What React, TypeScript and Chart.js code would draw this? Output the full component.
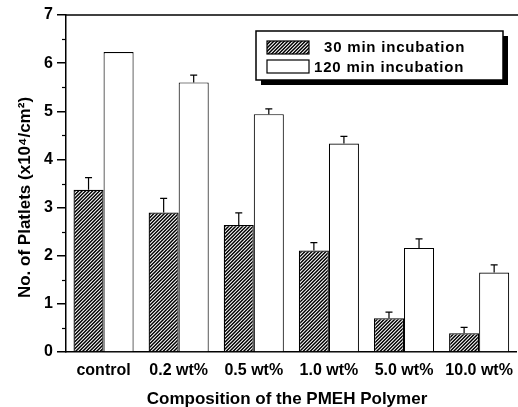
import React, { useEffect, useRef } from "react";
import { Chart, registerables } from "chart.js";

Chart.register(...registerables);

const categories = ["control", "0.2 wt%", "0.5 wt%", "1.0 wt%", "5.0 wt%", "10.0 wt%"];
const min30 = [3.37, 2.9, 2.64, 2.11, 0.7, 0.39];
const err30 = [0.25, 0.29, 0.25, 0.16, 0.13, 0.12];
const min120 = [6.23, 5.6, 4.94, 4.33, 2.16, 1.65];
const err120 = [0, 0.15, 0.11, 0.15, 0.19, 0.16];
const seriesNames = ["30 min incubation", "120 min incubation"];
const yMin = 0;
const yMax = 7;
const yStep = 1;
const yTitle = "No. of Platlets (x10\u2074/cm\u00B2)";
const xTitle = "Composition of the PMEH Polymer";

const FONT = '"Liberation Sans", Arial, sans-serif';
const W = 522;
const H = 407;

function makeHatch(): CanvasPattern | string {
  const pc = document.createElement("canvas");
  const s = 3.5;
  pc.width = 7;
  pc.height = 7;
  const g = pc.getContext("2d");
  if (!g) return "#555";
  g.fillStyle = "#fff";
  g.fillRect(0, 0, 7, 7);
  g.strokeStyle = "#000";
  g.lineWidth = 1.5;
  g.beginPath();
  for (let k = -2; k <= 4; k++) {
    const o = k * s;
    g.moveTo(o - 1, 8);
    g.lineTo(o + 8, -1);
  }
  g.stroke();
  const ctx = document.createElement("canvas").getContext("2d");
  return (ctx && ctx.createPattern(pc, "repeat")) || "#555";
}

export default function App() {
  const ref = useRef<HTMLCanvasElement | null>(null);

  useEffect(() => {
    const canvas = ref.current;
    if (!canvas) return;
    const hatch = makeHatch();
    const errs = [err30, err120];

    const decor = {
      id: "decor",
      afterDatasetsDraw(chart: any) {
        const ctx = chart.ctx;
        const y = chart.scales.y;
        ctx.save();
        ctx.strokeStyle = "#000";
        ctx.lineWidth = 1.2;
        chart.data.datasets.forEach((ds: any, di: number) => {
          const meta = chart.getDatasetMeta(di);
          meta.data.forEach((bar: any, i: number) => {
            const e = errs[di][i];
            if (!e) return;
            const v = ds.data[i];
            const y0 = y.getPixelForValue(v);
            const y1 = y.getPixelForValue(v + e);
            ctx.beginPath();
            ctx.moveTo(bar.x, y0);
            ctx.lineTo(bar.x, y1);
            ctx.moveTo(bar.x - 3.5, y1);
            ctx.lineTo(bar.x + 3.5, y1);
            ctx.stroke();
          });
        });
        ctx.restore();
      },
      afterDraw(chart: any) {
        const ctx = chart.ctx;
        const area = chart.chartArea;
        const y = chart.scales.y;
        ctx.save();
        ctx.strokeStyle = "#000";
        ctx.lineWidth = 1.5;
        ctx.beginPath();
        ctx.moveTo(area.left, y.getPixelForValue(yMax));
        ctx.lineTo(W, y.getPixelForValue(yMax));
        ctx.stroke();
        ctx.lineWidth = 1.2;
        for (let v = yMin + yStep / 2; v < yMax; v += yStep) {
          const py = Math.round(y.getPixelForValue(v)) + 0.5;
          ctx.beginPath();
          ctx.moveTo(area.left - 4, py);
          ctx.lineTo(area.left, py);
          ctx.stroke();
        }
        ctx.fillStyle = "#000";
        ctx.font = `bold 17px ${FONT}`;
        ctx.textAlign = "center";
        ctx.textBaseline = "alphabetic";
        ctx.fillText(xTitle, 287, 404);
        ctx.save();
        ctx.translate(30, (area.top + area.bottom) / 2 + 14);
        ctx.rotate(-Math.PI / 2);
        ctx.fillText(yTitle, 0, 0);
        ctx.restore();

        const lx = 256, ly = 31, lw = 247, lh = 49;
        ctx.fillStyle = "#000";
        ctx.fillRect(lx + 5, ly + 5, lw, lh);
        ctx.fillStyle = "#fff";
        ctx.fillRect(lx, ly, lw, lh);
        ctx.lineWidth = 1.5;
        ctx.strokeRect(lx, ly, lw, lh);
        ctx.fillStyle = hatch as any;
        ctx.fillRect(267, 41, 42, 13);
        ctx.lineWidth = 1.2;
        ctx.strokeRect(267, 41, 42, 13);
        ctx.fillStyle = "#fff";
        ctx.fillRect(267, 60, 42, 13);
        ctx.strokeRect(267, 60, 42, 13);
        ctx.fillStyle = "#000";
        ctx.font = `bold 15px ${FONT}`;
        (ctx as any).letterSpacing = "0.8px";
        ctx.textAlign = "left";
        ctx.fillText(seriesNames[0], 324, 51.5);
        ctx.fillText(seriesNames[1], 314, 71.5);
        (ctx as any).letterSpacing = "0px";
        ctx.restore();
      },
    };

    const chart = new Chart(canvas, {
      type: "bar",
      data: {
        labels: categories,
        datasets: [
          {
            label: seriesNames[0],
            data: min30,
            backgroundColor: hatch as any,
            borderColor: "#000",
            borderWidth: 1.3,
            borderSkipped: "bottom",
          },
          {
            label: seriesNames[1],
            data: min120,
            backgroundColor: "#fff",
            borderColor: "#000",
            borderWidth: 1.1,
            borderSkipped: "bottom",
          },
        ],
      },
      options: {
        responsive: false,
        animation: false,
        devicePixelRatio: 1,
        layout: { padding: { top: 15, left: 0, right: 1, bottom: 0 } },
        plugins: {
          legend: { display: false },
          tooltip: { enabled: false },
          title: { display: false },
        },
        datasets: { bar: { categoryPercentage: 0.8, barPercentage: 1.0 } },
        scales: {
          x: {
            grid: { display: false, drawTicks: false },
            border: { display: true, color: "#000", width: 1.5 },
            ticks: {
              color: "#000",
              font: { family: FONT, size: 16, weight: "bold" },
              padding: 9,
              maxRotation: 0,
              autoSkip: false,
            },
            afterFit(scale: any) {
              scale.height = 55;
            },
          },
          y: {
            min: yMin,
            max: yMax,
            ticks: {
              stepSize: yStep,
              color: "#000",
              font: { family: FONT, size: 16, weight: "bold" },
              padding: 4,
            },
            grid: {
              drawOnChartArea: false,
              drawTicks: true,
              tickLength: 9,
              color: "#000",
              lineWidth: 1.5,
            },
            border: { display: true, color: "#000", width: 1.5 },
            afterFit(scale: any) {
              scale.width = 66;
            },
          },
        },
      },
      plugins: [decor],
    });

    return () => chart.destroy();
  }, []);

  return (
    <div style={{ position: "fixed", left: 0, top: 0, width: W, height: H, background: "#fff" }}>
      <canvas ref={ref} width={W} height={H} style={{ width: W, height: H, display: "block" }} />
    </div>
  );
}
